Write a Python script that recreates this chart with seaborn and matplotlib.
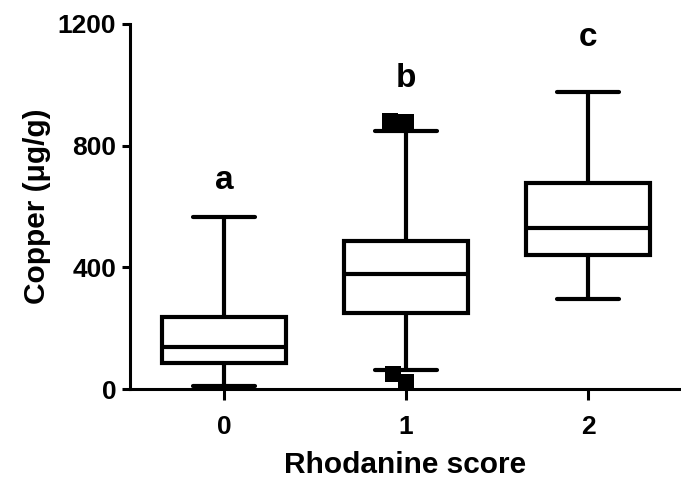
import matplotlib
matplotlib.use("Agg")
import matplotlib.pyplot as plt
import pandas as pd
import seaborn as sns

# Rhodanine score groups and box summary values (copper, ug/g)
scores = ["0", "1", "2"]
whisker_low = [10, 62, 297]
q1 = [87, 250, 442]
median = [137, 378, 528]
q3 = [238, 488, 676]
whisker_high = [567, 847, 975]

# outliers drawn as squares (score 1 only)
outlier_scores = ["1", "1", "1", "1"]
outlier_values = [882, 878, 22, 50]

# significance letters
letters = ["a", "b", "c"]
letter_y = [686, 1021, 1155]

rows = []
for i, s in enumerate(scores):
    for v in (whisker_low[i], q1[i], median[i], q3[i], whisker_high[i]):
        rows.append({"score": s, "copper": v})
df = pd.DataFrame(rows)
out_df = pd.DataFrame({"score": outlier_scores, "copper": outlier_values})

sns.set_theme(style="ticks")
plt.rcParams['font.family'] = ['Liberation Sans', 'DejaVu Sans']
plt.rcParams['font.weight'] = 'bold'

fig = plt.figure(figsize=(6.81, 4.78), dpi=100)
ax = fig.add_axes([0.191, 0.186, 0.809, 0.764])

sns.boxplot(data=df, x="score", y="copper", order=scores, whis=(0, 100),
            width=0.68, color="white", linecolor="black", linewidth=3,
            showfliers=False, ax=ax)
sns.swarmplot(data=out_df, x="score", y="copper", order=scores, marker="s",
              color="black", size=11, linewidth=0, ax=ax, zorder=5,
              clip_on=False)

for i, lt in enumerate(letters):
    ax.text(i, letter_y[i], lt, ha="center", va="center", fontsize=24,
            fontweight="bold", color="black")

ax.set_ylim(0, 1200)
ax.set_xlim(-0.516, 2.51)
ax.set_yticks([0, 400, 800, 1200])
ax.set_xlabel("Rhodanine score", fontsize=21.5, fontweight="bold",
              labelpad=8, color="black")
ax.set_ylabel("Copper (\u03bcg/g)", fontsize=21.5, fontweight="bold",
              labelpad=5, color="black")

sns.despine(ax=ax)
for side in ("left", "bottom"):
    ax.spines[side].set_linewidth(2.2)
    ax.spines[side].set_color("black")
ax.tick_params(axis="x", length=8, width=2.2, pad=11, labelsize=19, colors="black")
ax.tick_params(axis="y", length=6, width=2.2, pad=4, labelsize=19, colors="black")
for lab in ax.get_xticklabels() + ax.get_yticklabels():
    lab.set_fontweight("bold")

fig.savefig("out.png", dpi=100, facecolor="white")
